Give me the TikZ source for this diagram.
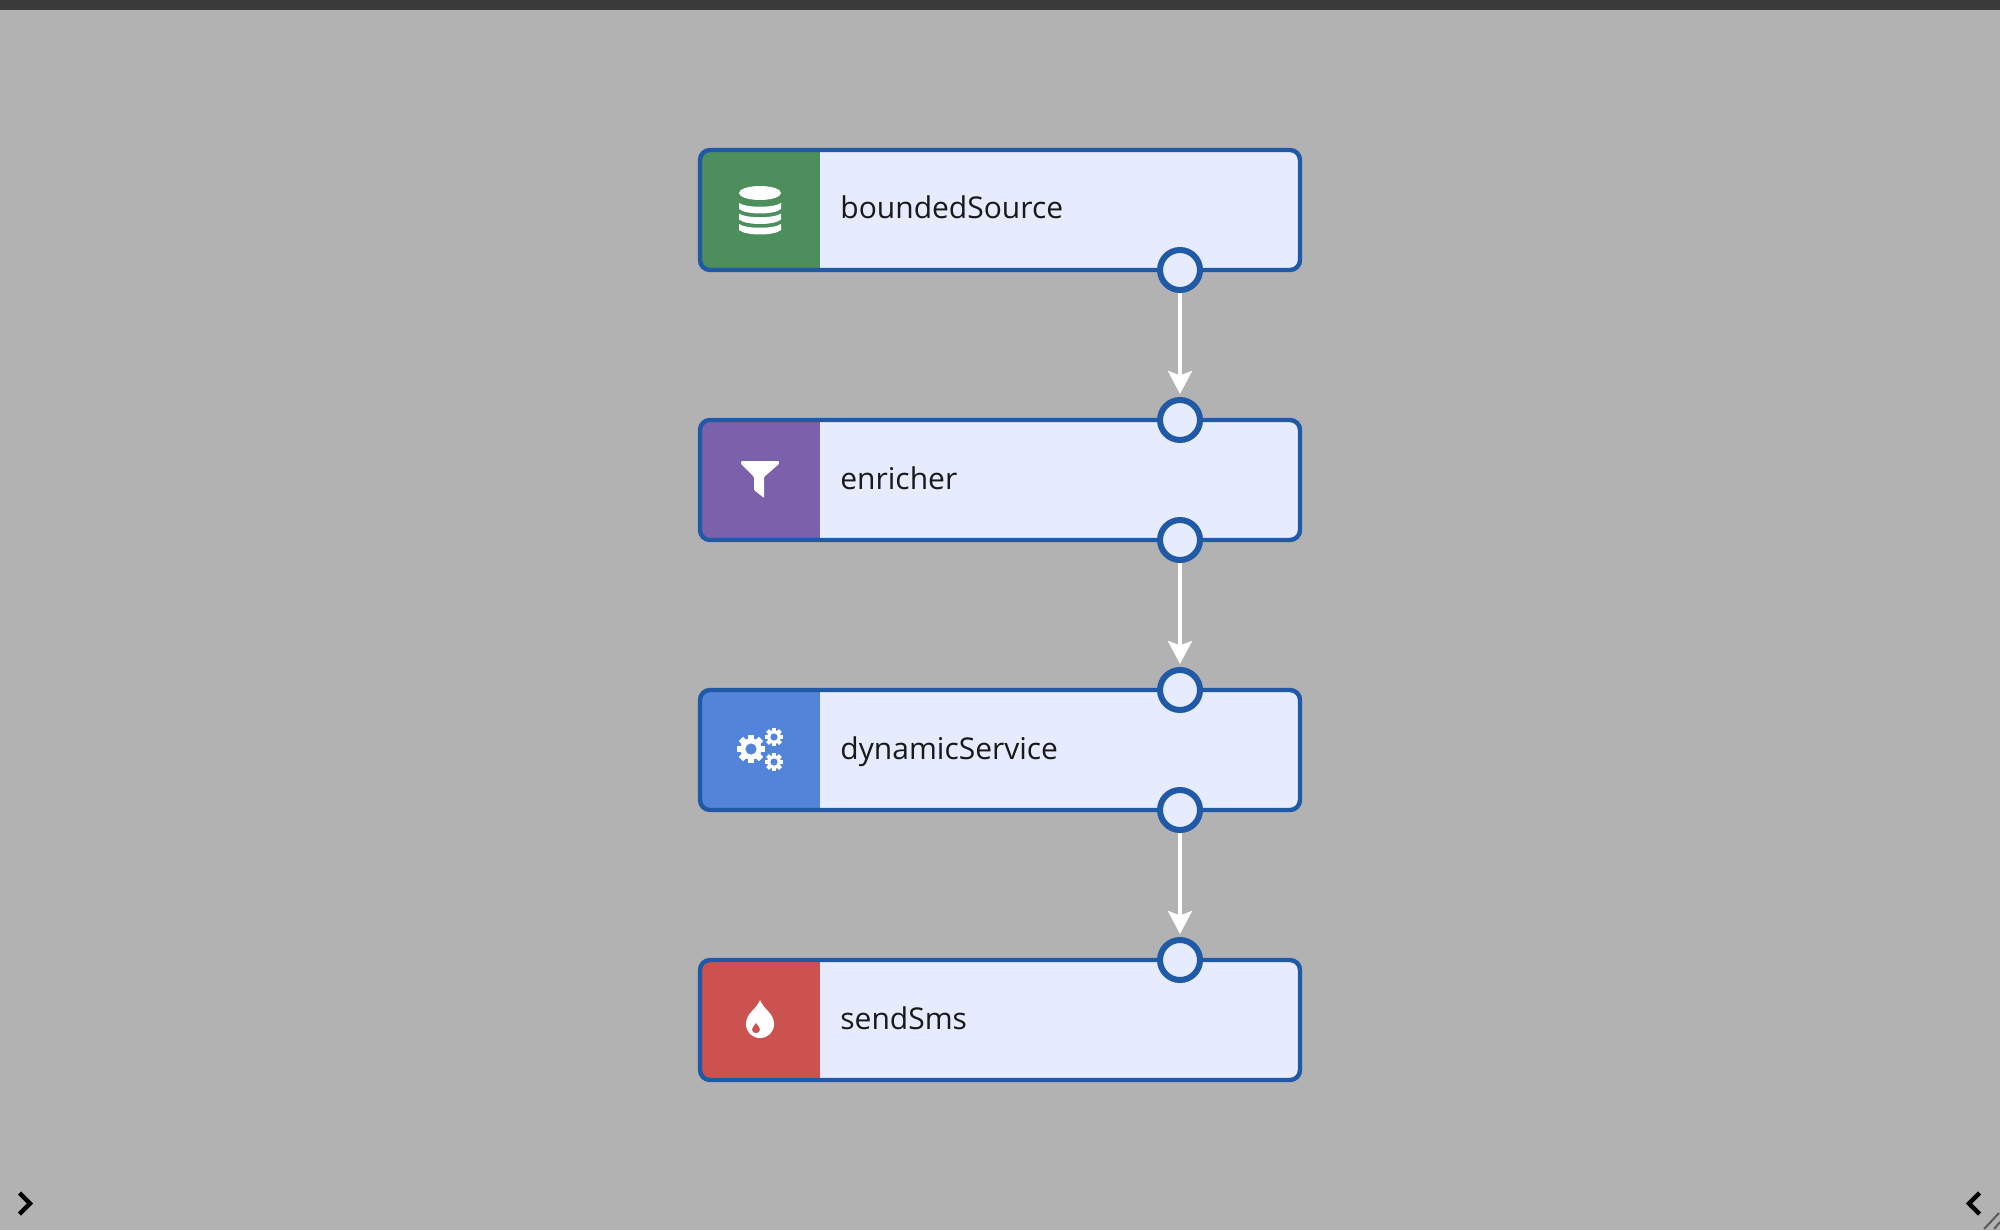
\documentclass[tikz,border=0pt]{standalone}
\usepackage{fontspec}
\setmainfont{Open Sans}
\usetikzlibrary{arrows.meta}
\definecolor{canvas}{HTML}{B2B2B2}
\definecolor{topbar}{HTML}{3A3A3A}
\definecolor{boxfill}{HTML}{E6EBFE}
\definecolor{boxline}{HTML}{2059A6}
\definecolor{sourcecol}{HTML}{4C8F5D}
\definecolor{filtercol}{HTML}{7B61AB}
\definecolor{servicecol}{HTML}{5284D9}
\definecolor{sinkcol}{HTML}{CB524E}
\tikzset{
  block/.style={draw=boxline,fill=boxfill,line width=2.2pt,rounded corners=5pt,
    minimum width=300pt,minimum height=60pt,inner sep=0pt,outer sep=0pt},
  port/.style={circle,draw=boxline,fill=boxfill,line width=3pt,minimum size=20pt,inner sep=0pt},
  flow/.style={draw=white,line width=2pt,shorten >=1.5pt,
    -{Stealth[length=11.5pt,width=12pt,inset=2.2pt]}},
  name label/.style={anchor=base west,inner sep=0pt,text=black!90,font=\fontsize{15pt}{18pt}\selectfont},
  chevron/.style={draw=black,line width=2.2pt,miter limit=4},
}
% one gear: x, y, radius, hole colour
\newcommand{\gearicon}[4]{
  \foreach \a in {0,45,...,315}
    \fill[white,shift={(#1,#2)},rotate=\a] (-0.22*#3,0) rectangle (0.22*#3,1.02*#3);
  \fill[white] (#1,#2) circle ({0.38*#3pt});
  \fill[#4] (#1,#2) circle ({0.2*#3pt});
}
\begin{document}
\begin{tikzpicture}[x=0.5pt,y=-0.5pt]
  \useasboundingbox (0,0) rectangle (2000,1230);
  \fill[canvas] (0,0) rectangle (2000,1230);
  \fill[topbar] (0,0) rectangle (2000,10);
  % blocks, colour strip and name
  \foreach \name/\ytop/\col/\txt in {bounded/150/sourcecol/boundedSource,enricher/420/filtercol/enricher,
      service/690/servicecol/dynamicService,sms/960/sinkcol/sendSms}{
    \node[block,path picture={\fill[\col,sharp corners] (path picture bounding box.north west)
      rectangle ([xshift=60pt]path picture bounding box.south west);}] (\name) at (1000,\ytop+60) {};
    \node[name label] (\name Label) at (840,\ytop+69) {\txt};
  }
  % ports
  \node[port] (boundedOut) at (1180,270) {};
  \node[port] (enricherIn) at (1180,420) {};
  \node[port] (enricherOut) at (1180,540) {};
  \node[port] (serviceIn) at (1180,690) {};
  \node[port] (serviceOut) at (1180,810) {};
  \node[port] (smsIn) at (1180,960) {};
  % connectors
  \draw[flow] (boundedOut) -- (enricherIn);
  \draw[flow] (enricherOut) -- (serviceIn);
  \draw[flow] (serviceOut) -- (smsIn);
  % database icon
  \fill[white] (760,193) ellipse (21 and 7);
  \foreach \y in {203,213.5,224}
    \fill[white] (739,\y) .. controls (746,\y+5) and (774,\y+5) .. (781,\y)
      -- (781,\y+6) .. controls (774,\y+12) and (746,\y+12) .. (739,\y+6) -- cycle;
  % funnel icon
  \fill[white,rounded corners=0.5pt] (741,461) -- (779,461) -- (779,464) -- (764,477) -- (764,498)
    -- (754,490) -- (754,477) -- (741,464) -- cycle;
  % gears icon
  \gearicon{751}{749}{14}{servicecol}
  \gearicon{774}{737}{9}{servicecol}
  \gearicon{774}{762}{9}{servicecol}
  % drop icon
  \fill[white] (760,1000) .. controls (764,1010) and (774,1013) .. (774,1024)
    .. controls (774,1032) and (768,1038) .. (760,1038)
    .. controls (752,1038) and (746,1032) .. (746,1024)
    .. controls (746,1013) and (756,1010) .. (760,1000) -- cycle;
  \fill[sinkcol] (756,1023) .. controls (757.5,1026) and (760,1027) .. (760,1029.5)
    .. controls (760,1032) and (758,1033) .. (756,1033)
    .. controls (754,1033) and (752,1032) .. (752,1029.5)
    .. controls (752,1027) and (754.5,1026) .. (756,1023) -- cycle;
  % side chevrons and resize mark
  \draw[chevron] (19.5,1193) -- (30,1203.5) -- (19.5,1214);
  \draw[chevron] (1979.5,1193) -- (1969,1203.5) -- (1979.5,1214);
  \draw[line width=1pt,white!70!black] (1986,1229) -- (2000,1214);
  \draw[line width=1pt,white!35!black] (1984,1229) -- (1999,1213);
  \draw[line width=1pt,white!35!black] (1994,1229) -- (2000,1222);
\end{tikzpicture}
\end{document}
